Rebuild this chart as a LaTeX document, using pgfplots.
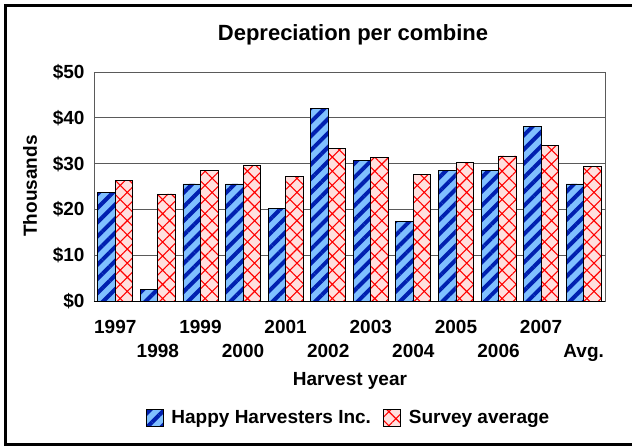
\documentclass[border=0pt]{standalone}
\usepackage{pgfplots}
\pgfplotsset{compat=1.18}
\usepackage{fontspec}
\setmainfont{Liberation Sans}
\usetikzlibrary{patterns.meta}
\definecolor{dkblue}{RGB}{0,32,176}
\definecolor{ltblue}{RGB}{128,192,255}
\definecolor{pinkbg}{RGB}{255,224,222}
\definecolor{gridgray}{RGB}{90,90,90}
\newcommand\lowr[1]{\smash{\raisebox{-24pt}{#1}}}
\newcommand\lblfont{\fontsize{19}{22}\selectfont\bfseries}
\begin{document}
\begin{tikzpicture}[x=1pt,y=1pt]
\useasboundingbox (-94,-145.7) rectangle (538,301.3);
\begin{axis}[
  at={(0,0)}, anchor=south west,
  scale only axis, width=511pt, height=229.3pt,
  ybar=0pt, bar width=17.5pt,
  xmin=-0.5, xmax=11.5, ymin=0, ymax=50,
  xtick={0,1,2,3,4,5,6,7,8,9,10,11},
  xticklabels={1997,\lowr{1998},1999,\lowr{2000},2001,\lowr{2002},2003,\lowr{2004},2005,\lowr{2006},2007,\lowr{Avg.}},
  xticklabel style={anchor=base, yshift=-31.7pt},
  ytick={0,10,20,30,40,50},
  yticklabels={\$0,\$10,\$20,\$30,\$40,\$50},
  yticklabel style={anchor=east, xshift=-6pt},
  major tick length=0pt,
  ymajorgrids, grid style={draw=gridgray, line width=0.9pt},
  axis line style={draw=gridgray, line width=0.9pt},
  tick label style={font=\lblfont},
  legend style={at={(0.498,-0.509)}, anchor=center, draw=none, fill=none,
    font=\lblfont, legend columns=2,
    /tikz/every odd column/.append style={column sep=6pt},
    /tikz/every even column/.append style={column sep=10pt}},
  legend image code/.code={\draw[#1] (0pt,-8.5pt) rectangle (17pt,8.5pt);},
]
\addplot[draw=black, line width=0.8pt, preaction={fill=ltblue},
  pattern={Lines[angle=45,distance=10pt,line width=4pt]}, pattern color=dkblue]
  coordinates {(0,23.7)(1,2.5)(2,25.6)(3,25.6)(4,20.3)(5,42.0)(6,30.8)(7,17.4)(8,28.5)(9,28.5)(10,38.1)(11,25.6)};
\addplot[draw=black, line width=0.8pt, preaction={fill=pinkbg},
  pattern={Hatch[angle=45,distance=10pt,line width=1.1pt]}, pattern color=red]
  coordinates {(0,26.4)(1,23.4)(2,28.5)(3,29.7)(4,27.3)(5,33.3)(6,31.3)(7,27.7)(8,30.3)(9,31.7)(10,33.9)(11,29.4)};
\legend{Happy Harvesters Inc.,Survey average}
\draw[black, line width=1.6pt] (rel axis cs:0,0) -- (rel axis cs:1,0);
\end{axis}
\node[font=\fontsize{22}{26}\selectfont\bfseries] at (259,266.3) {Depreciation per combine};
\node[font=\lblfont, rotate=90] at (-64,115.3) {Thousands};
\node[font=\lblfont] at (256,-79.7) {Harvest year};
\draw[black, line width=3pt] (560,-143.2) -- (-88.5,-143.2) -- (-88.5,295.8) -- (560,295.8);
\end{tikzpicture}
\end{document}
